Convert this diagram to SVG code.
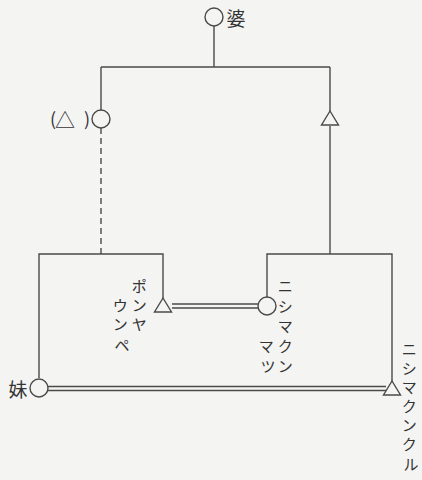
<svg xmlns="http://www.w3.org/2000/svg" width="422" height="480" viewBox="0 0 422 480">
  <defs>
    <style>
      .ln { stroke: #4a4a4a; stroke-width: 1.4; fill: none; }
      .dash { stroke: #4a4a4a; stroke-width: 1.4; fill: none; stroke-dasharray: 6 4; }
      .sym { stroke: #4a4a4a; stroke-width: 1.4; fill: #f4f4f2; }
      .lbl { font-family: "Noto Sans CJK JP", sans-serif; fill: #333; text-anchor: middle; dominant-baseline: central; }
      .big { font-size: 19px; }
      .mid { font-size: 18px; }
      .kana { font-size: 15px; }
    </style>
  </defs>
  <rect width="422" height="480" fill="#f4f4f2"/>

  <!-- connectors -->
  <g id="connectors">
    <!-- grandmother to her two children -->
    <path class="ln" d="M214 26 V67 M101 67 H330 M101 67 V110 M330 67 V111"/>
    <!-- left child: uncertain line down to the lower family -->
    <path class="dash" d="M101 128 V254"/>
    <!-- right child down to the lower family -->
    <path class="ln" d="M330 126 V254"/>
    <!-- left bracket -->
    <path class="ln" d="M39 378 V254 H163 V298"/>
    <!-- right bracket -->
    <path class="ln" d="M267 297 V254 H392 V381"/>
    <!-- marriage: Ponyaunpe = Nishimakun-matsu -->
    <path class="ln" d="M172 304 H258 M172 308 H258"/>
    <!-- marriage: sister = Nishimakunkur -->
    <path class="ln" d="M48 386.5 H386 M48 390.5 H386"/>
  </g>

  <!-- grandmother -->
  <g id="n-grandmother">
    <circle class="sym" cx="214" cy="17" r="9"/>
    <text class="lbl big" x="236" y="17">婆</text>
  </g>

  <!-- left child, sex uncertain -->
  <g id="n-left">
    <circle class="sym" cx="101" cy="119" r="9"/>
    <text class="lbl mid">
      <tspan x="55" y="118">(</tspan>
      <tspan x="67" y="119" style="font-size:20px">△</tspan>
      <tspan x="87" y="118">)</tspan>
    </text>
  </g>

  <!-- right child -->
  <g id="n-right">
    <polygon class="sym" points="330,111 338.5,125 321.5,125"/>
  </g>

  <!-- Ponyaunpe -->
  <g id="n-ponyaunpe">
    <polygon class="sym" points="163,298 171.5,312 154.5,312"/>
    <text class="lbl kana">
      <tspan x="141" y="285">ポ</tspan>
      <tspan x="141" y="304">ン</tspan>
      <tspan x="141" y="323">ヤ</tspan>
      <tspan x="122" y="304">ウ</tspan>
      <tspan x="122" y="323">ン</tspan>
      <tspan x="122" y="344">ペ</tspan>
    </text>
  </g>

  <!-- Nishimakun-matsu -->
  <g id="n-nishimakunmatsu">
    <circle class="sym" cx="267" cy="306" r="9"/>
    <text class="lbl kana">
      <tspan x="287" y="285">ニ</tspan>
      <tspan x="287" y="305">シ</tspan>
      <tspan x="287" y="325">マ</tspan>
      <tspan x="287" y="345">ク</tspan>
      <tspan x="287" y="365">ン</tspan>
      <tspan x="268" y="345">マ</tspan>
      <tspan x="268" y="365">ツ</tspan>
    </text>
  </g>

  <!-- sister -->
  <g id="n-sister">
    <circle class="sym" cx="39" cy="388" r="9"/>
    <text class="lbl big" x="18" y="388">妹</text>
  </g>

  <!-- Nishimakunkur -->
  <g id="n-nishimakunkur">
    <polygon class="sym" points="392,381 400.5,395 383.5,395"/>
    <text class="lbl kana">
      <tspan x="411" y="348">ニ</tspan>
      <tspan x="411" y="367">シ</tspan>
      <tspan x="411" y="386">マ</tspan>
      <tspan x="411" y="405">ク</tspan>
      <tspan x="411" y="424">ン</tspan>
      <tspan x="411" y="443">ク</tspan>
      <tspan x="411" y="463">ル</tspan>
    </text>
  </g>
</svg>
